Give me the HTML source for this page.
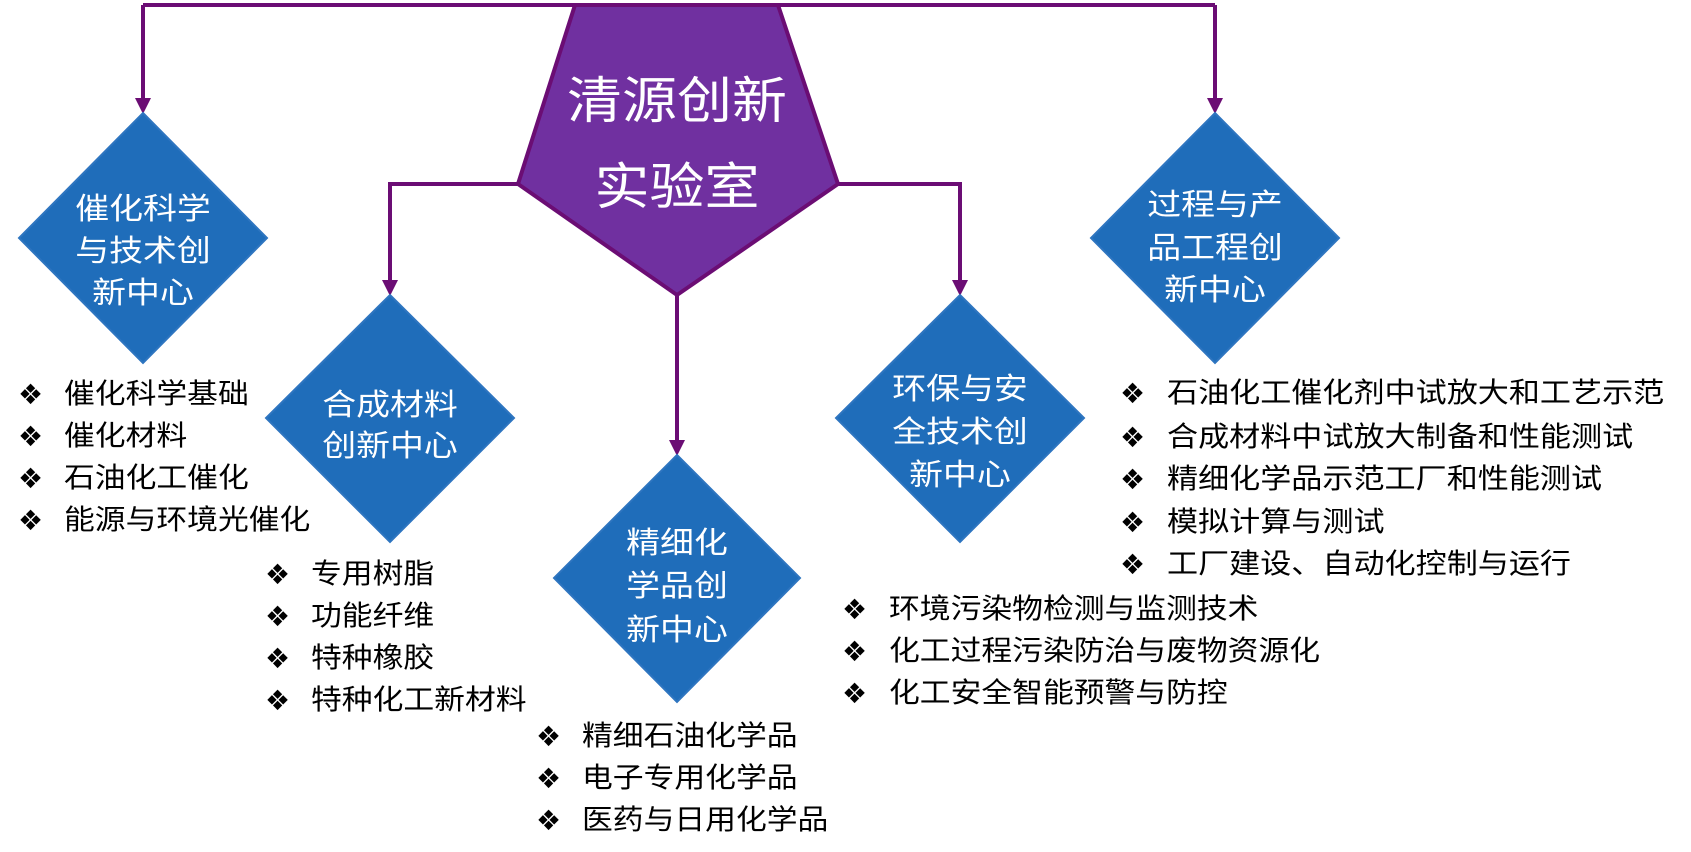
<!DOCTYPE html>
<html><head><meta charset="utf-8"><style>
html,body{margin:0;padding:0;background:#fff;}
svg{display:block;}
text{font-family:"Liberation Sans","Noto Sans CJK SC",sans-serif;}
.d{fill:#fff;font-size:30px;text-anchor:middle;}
.b{fill:#000;font-size:28px;}
.m{fill:#000;font-size:28px;font-family:"DejaVu Sans",sans-serif;}
</style></head><body>
<svg width="1691" height="852" viewBox="0 0 1691 852" xmlns="http://www.w3.org/2000/svg">
<g stroke="#6B0D74" stroke-width="4" fill="none">
<polyline points="143,5 1215,5"/>
<line x1="143" y1="5" x2="143" y2="105"/>
<line x1="1215" y1="5" x2="1215" y2="105"/>
<polyline points="520,184 390,184 390,287"/>
<polyline points="836,184 960,184 960,287"/>
<line x1="677" y1="295" x2="677" y2="447"/>
</g>
<g fill="#6B0D74">
<path d="M135,98 L151,98 L143,114 Z"/>
<path d="M1207,98 L1223,98 L1215,114 Z"/>
<path d="M382,280 L398,280 L390,296 Z"/>
<path d="M952,280 L968,280 L960,296 Z"/>
<path d="M669,440 L685,440 L677,456 Z"/>
</g>
<polygon points="575,5 778,5 838,184 677,295 518,184" fill="#7030A0" stroke="#6B0D74" stroke-width="4"/>
<g transform="translate(677,118) scale(1.1,1)"><text x="0" y="0" fill="#fff" font-size="50" text-anchor="middle">清源创新</text></g>
<g transform="translate(677,204) scale(1.1,1)"><text x="0" y="0" fill="#fff" font-size="50" text-anchor="middle">实验室</text></g>
<g fill="#1F6DBA" stroke="#2E75C0" stroke-width="2">
<polygon points="143,113 267,238 143,363 19,238"/>
<polygon points="390,295 514,418 390,542 266,418"/>
<polygon points="677,455 800,578 677,702 554,578"/>
<polygon points="960,295 1084,418 960,542 836,418"/>
<polygon points="1215,113 1339,238 1215,363 1091,238"/>
</g>
<g transform="translate(143,0) scale(1.13,1)"><text class="d" y="219">催化科学</text><text class="d" y="261">与技术创</text><text class="d" y="303">新中心</text></g>
<g transform="translate(390,0) scale(1.13,1)"><text class="d" y="415">合成材料</text><text class="d" y="456">创新中心</text></g>
<g transform="translate(677,0) scale(1.13,1)"><text class="d" y="553">精细化</text><text class="d" y="596">学品创</text><text class="d" y="640">新中心</text></g>
<g transform="translate(960,0) scale(1.13,1)"><text class="d" y="399">环保与安</text><text class="d" y="442">全技术创</text><text class="d" y="485">新中心</text></g>
<g transform="translate(1215,0) scale(1.13,1)"><text class="d" y="215">过程与产</text><text class="d" y="258">品工程创</text><text class="d" y="300">新中心</text></g>
<g><text class="m" x="18" y="404">❖</text><text class="m" x="18" y="446">❖</text><text class="m" x="18" y="488">❖</text><text class="m" x="18" y="530">❖</text></g>
<g transform="translate(64,0) scale(1.1,1)"><text class="b" y="403">催化科学基础</text><text class="b" y="445">催化材料</text><text class="b" y="487">石油化工催化</text><text class="b" y="529">能源与环境光催化</text></g>
<g><text class="m" x="265" y="584">❖</text><text class="m" x="265" y="626">❖</text><text class="m" x="265" y="668">❖</text><text class="m" x="265" y="710">❖</text></g>
<g transform="translate(311,0) scale(1.1,1)"><text class="b" y="583">专用树脂</text><text class="b" y="625">功能纤维</text><text class="b" y="667">特种橡胶</text><text class="b" y="709">特种化工新材料</text></g>
<g><text class="m" x="536" y="746">❖</text><text class="m" x="536" y="788">❖</text><text class="m" x="536" y="830">❖</text></g>
<g transform="translate(582,0) scale(1.1,1)"><text class="b" y="745">精细石油化学品</text><text class="b" y="787">电子专用化学品</text><text class="b" y="829">医药与日用化学品</text></g>
<g><text class="m" x="842" y="619">❖</text><text class="m" x="842" y="661">❖</text><text class="m" x="842" y="703">❖</text></g>
<g transform="translate(889,0) scale(1.1,1)"><text class="b" y="618">环境污染物检测与监测技术</text><text class="b" y="660">化工过程污染防治与废物资源化</text><text class="b" y="702">化工安全智能预警与防控</text></g>
<g><text class="m" x="1120" y="403">❖</text><text class="m" x="1120" y="447">❖</text><text class="m" x="1120" y="489">❖</text><text class="m" x="1120" y="532">❖</text><text class="m" x="1120" y="574">❖</text></g>
<g transform="translate(1167,0) scale(1.11,1)"><text class="b" y="402">石油化工催化剂中试放大和工艺示范</text><text class="b" y="446">合成材料中试放大制备和性能测试</text><text class="b" y="488">精细化学品示范工厂和性能测试</text><text class="b" y="531">模拟计算与测试</text><text class="b" y="573">工厂建设、自动化控制与运行</text></g>
</svg>
</body></html>
